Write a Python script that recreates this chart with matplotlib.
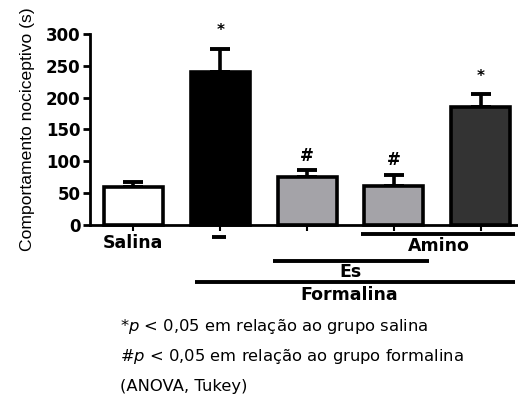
import matplotlib
matplotlib.use("Agg")
import matplotlib.pyplot as plt

plt.rcParams['font.family'] = ['DejaVu Sans']
plt.rcParams['mathtext.fontset'] = 'custom'
plt.rcParams['mathtext.it'] = 'DejaVu Sans:italic'
plt.rcParams['mathtext.rm'] = 'DejaVu Sans'

# Group means and SEM (s)
groups = ["Salina", "Formalina", "Es", "Es + Amino", "Amino"]
means = [60, 240, 75, 61, 186]
errors = [7, 37, 11, 18, 19]
colors = ["white", "black", "#a4a3a8", "#a4a3a8", "#333333"]
marks = ["", "*", "#", "#", "*"]
y_ticks = [0, 50, 100, 150, 200, 250, 300]

fig = plt.figure(figsize=(5.18, 3.94), dpi=100)
ax = fig.add_axes([90 / 518, 1 - 225 / 394, 428 / 518, 191 / 394])

x = list(range(len(means)))
ax.bar(x, means, width=0.68, color=colors, edgecolor="black", linewidth=2.6,
       zorder=2, clip_on=False)
ax.errorbar(x, means, yerr=[[0] * len(errors), errors], fmt="none",
            ecolor="black", elinewidth=2.6, capsize=7, capthick=2.8,
            zorder=1, clip_on=False)

mark_gap = {"*": 28, "#": 23}
for xi, m, e, s in zip(x, means, errors, marks):
    if s:
        ax.text(xi, m + e + mark_gap[s], s, ha="center", va="center",
                fontsize=11 if s == "*" else 12, fontweight="bold")

ax.set_xlim(-0.5, 4.43)
ax.set_ylim(0, 300)
ax.set_yticks(y_ticks)
ax.set_yticklabels([str(t) for t in y_ticks], fontsize=12, fontweight="bold")
ax.set_xticks(x)
ax.set_xticklabels([""] * len(x))
ax.tick_params(axis="y", length=5, width=2, pad=2)
ax.tick_params(axis="x", length=4, width=1.5)
for side in ["top", "right"]:
    ax.spines[side].set_visible(False)
for side in ["left", "bottom"]:
    ax.spines[side].set_linewidth(2)
ax.set_ylabel("Comportamento nociceptivo (s)", fontsize=12.6,
              family="Liberation Sans")
ax.yaxis.set_label_coords(-0.128, 0.5)

# Treatment rows under the axis
def group_line(x0, x1, y):
    ax.plot([x0, x1], [y, y], color="black", lw=2.8, clip_on=False,
            solid_capstyle="butt")

label_kw = dict(ha="center", va="center", fontsize=12.5, fontweight="bold")
ax.text(0, -28, "Salina", **label_kw)
group_line(0.90, 1.07, -19)
group_line(2.62, 4.40, -14)
ax.text(3.52, -33, "Amino", **label_kw)
group_line(1.61, 3.40, -57)
ax.text(2.50, -74, "Es", **label_kw)
group_line(0.71, 4.40, -89)
ax.text(2.49, -110, "Formalina", **label_kw)

notes = [r"*$p$ < 0,05 em relação ao grupo salina",
         r"#$p$ < 0,05 em relação ao grupo formalina",
         "(ANOVA, Tukey)"]
for i, n in enumerate(notes):
    fig.text(120 / 518, 1 - (326 + 30 * i) / 394, n, ha="left", va="center",
             fontsize=11.8)

fig.savefig("out.png", dpi=100)
